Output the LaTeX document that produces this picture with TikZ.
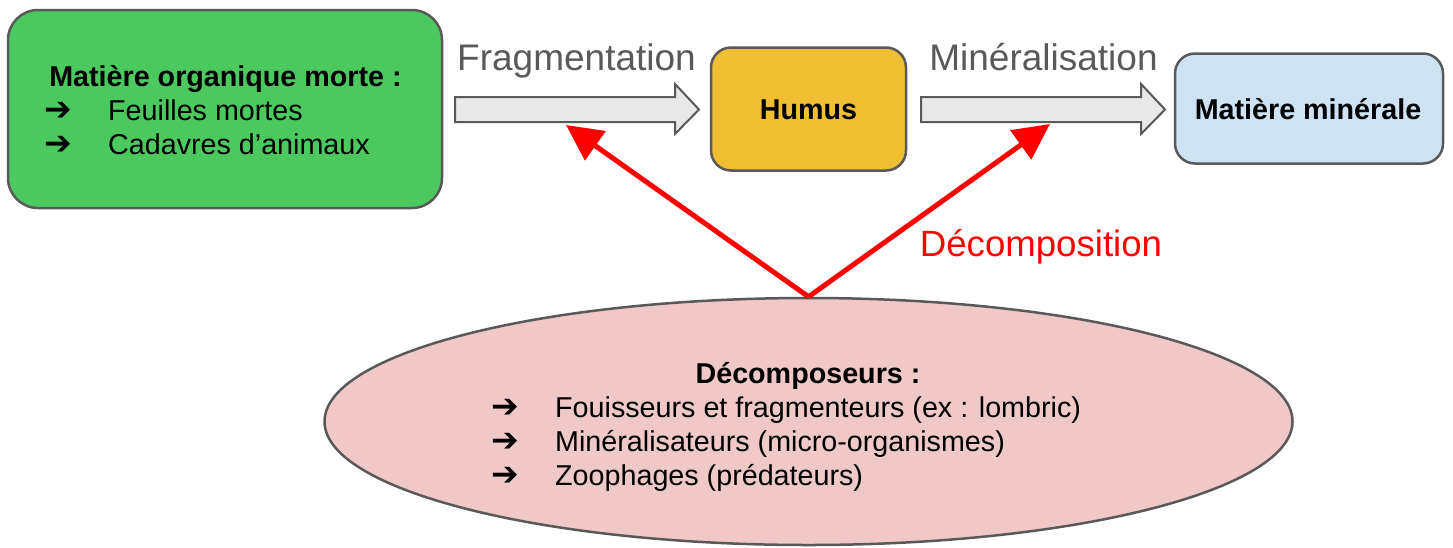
\documentclass[tikz,border=0pt]{standalone}
\usepackage{fontspec}
\setmainfont{Liberation Sans}
\newfontfamily\djfont{DejaVu Sans}
\usetikzlibrary{arrows.meta,shapes.geometric}
\definecolor{boxline}{HTML}{595959}
\definecolor{greenfill}{HTML}{4BC95E}
\definecolor{humusfill}{HTML}{F0BE33}
\definecolor{bluefill}{HTML}{CFE2F3}
\definecolor{pinkfill}{HTML}{F0C8C8}
\definecolor{arrowfill}{HTML}{E8E8E8}
\definecolor{labelgray}{HTML}{595959}
\definecolor{redline}{HTML}{FF0000}
\newcommand{\arr}{{\djfont\fontsize{33pt}{34pt}\selectfont ➔}}
\tikzset{
  box/.style={draw=boxline, line width=2.5pt, inner sep=0pt},
  body/.style={inner sep=0pt, font=\fontsize{28.7pt}{34pt}\selectfont},
  bodybold/.style={body, font=\fontsize{28.7pt}{34pt}\selectfont\bfseries},
  steplabel/.style={inner sep=0pt, text=labelgray, font=\fontsize{37pt}{44pt}\selectfont},
  blockarrow/.style={draw=boxline, fill=arrowfill, line width=2pt, line join=miter},
  redarrow/.style={draw=redline, line width=5pt, -{Triangle[length=36pt,width=35pt]}}
}
\begin{document}
\begin{tikzpicture}[x=1pt,y=-1pt]
\useasboundingbox (0,0) rectangle (1453,547);

% boxes
\node[box, fill=greenfill, rounded corners=30pt, minimum width=434pt, minimum height=198pt] (morte) at (225,109) {};
\node[box, fill=humusfill, rounded corners=20pt, minimum width=195pt, minimum height=123pt] (humus) at (808.5,109) {};
\node[box, fill=bluefill, rounded corners=20pt, minimum width=268pt, minimum height=110pt] (minerale) at (1309,108.5) {};
\node[box, fill=pinkfill, shape=ellipse, minimum width=968pt, minimum height=247pt] (decomp) at (808.5,421.5) {};

% texts in green box
\node[bodybold, anchor=base] (mtitle) at (225.5,86) {Matière organique morte :};
\node[body, anchor=base west] (m1) at (44,120) {\makebox[64pt][l]{\arr}Feuilles mortes};
\node[body, anchor=base west] (m2) at (44,154) {\makebox[64pt][l]{\arr}Cadavres d’animaux};

\node[bodybold, anchor=base] (htext) at (808.5,119) {Humus};
\node[bodybold, anchor=base] (mintext) at (1308,119) {Matière minérale};

% ellipse texts
\node[bodybold, anchor=base] (dtitle) at (808,383) {Décomposeurs :};
\node[body, anchor=base west] (d1) at (491,417) {\makebox[64pt][l]{\arr}Fouisseurs et fragmenteurs (ex : lombric)};
\node[body, anchor=base west] (d2) at (491,451) {\makebox[64pt][l]{\arr}Minéralisateurs (micro-organismes)};
\node[body, anchor=base west] (d3) at (491,485) {\makebox[64pt][l]{\arr}Zoophages (prédateurs)};

% block arrows
\draw[blockarrow] (455,97) -- (675,97) -- (675,84) -- (699,109.5) -- (675,134) -- (675,122) -- (455,122) -- cycle;
\draw[blockarrow] (921,97) -- (1141,97) -- (1141,84) -- (1165,109.5) -- (1141,134) -- (1141,122) -- (921,122) -- cycle;
\coordinate (fragtip) at (566,125);
\coordinate (mintip) at (1050,124);

% labels
\node[steplabel, anchor=base] (lfrag) at (576.5,70) {Fragmentation};
\node[steplabel, anchor=base] (lmin) at (1043.5,70) {Minéralisation};
\node[inner sep=0pt, text=redline, font=\fontsize{36.6pt}{42pt}\selectfont, anchor=base] (ldec) at (1041,256) {Décomposition};

% red arrows
\draw[redarrow] (decomp.north) -- (fragtip);
\draw[redarrow] (decomp.north) -- (mintip);
\end{tikzpicture}
\end{document}
